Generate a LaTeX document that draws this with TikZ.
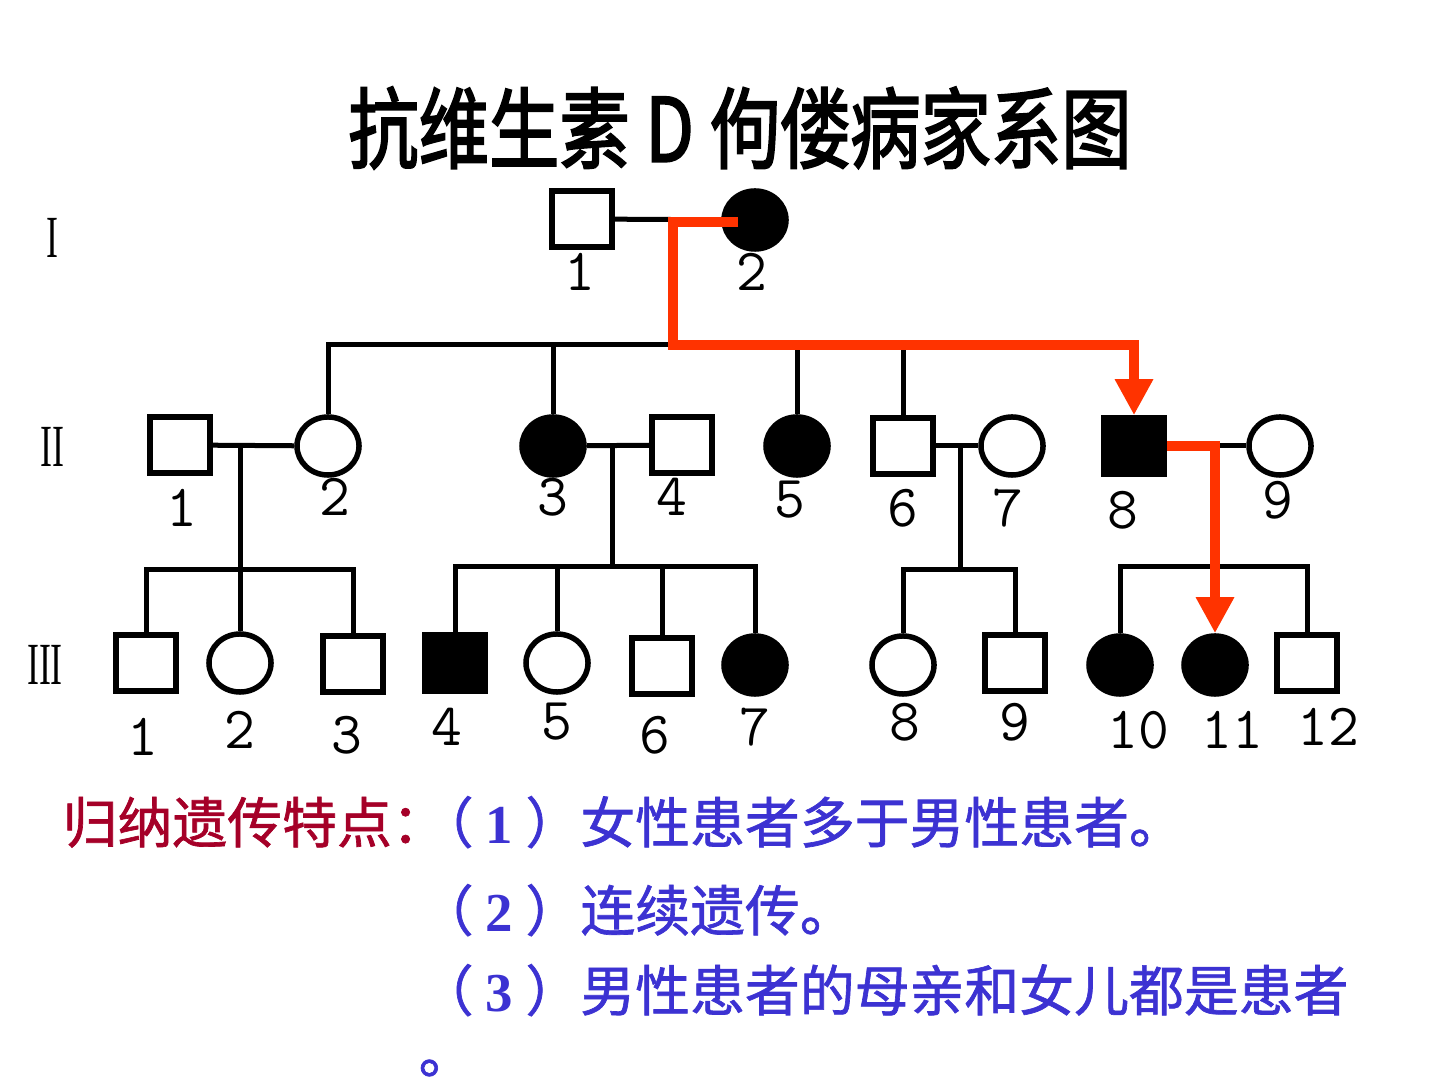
\documentclass[tikz,border=0pt]{standalone}
\usepackage{fontspec}
\setmainfont{Liberation Serif}
\newfontfamily\cjk{Noto Sans CJK SC}
\newfontfamily\cjkheavy[FakeBold=2.5]{Noto Sans CJK SC}
\newfontfamily\cjknote[FakeBold=1.2]{Noto Sans CJK SC}
\usetikzlibrary{shapes.geometric,arrows.meta}
\definecolor{arrowred}{RGB}{255,51,0}
\definecolor{notered}{RGB}{165,0,40}
\definecolor{noteblue}{RGB}{60,50,210}
\newcommand{\itemnum}[1]{{\rmfamily\bfseries #1}}

\begin{document}
\begin{tikzpicture}[x=0.01cm, y=-0.01cm,
	line/.style={line width=0.05cm},
	male/.style={draw, line width=0.055cm, rectangle, fill=white, minimum width=0.6cm, minimum height=0.56cm, inner sep=0pt},
	female/.style={draw, line width=0.055cm, ellipse, fill=white, minimum width=0.62cm, minimum height=0.58cm, inner sep=0pt},
	sick/.style={fill=black},
	num/.style={font=\ttfamily\fontsize{17pt}{17pt}\selectfont, inner sep=0pt},
	gen/.style={font=\fontsize{17pt}{17pt}\selectfont, xscale=0.6, inner sep=0pt},
	note/.style={font=\cjknote\fontsize{15.6pt}{18pt}\selectfont, inner sep=0pt, anchor=base west},
	redline/.style={draw=arrowred, line width=0.1cm, -{Triangle[width=0.36cm,length=0.36cm]}}]

	\useasboundingbox (0,0) rectangle (1440,1080);

	% title
	\node[font=\cjkheavy\fontsize{25pt}{25pt}\selectfont, xscale=0.8] (title) at (740,128) {抗维生素 D 佝偻病家系图};

	% generations
	\node[gen] (genI) at (52,238) {I};
	\node[gen] (genII) at (52,447) {II};
	\node[gen] (genIII) at (45,665) {III};

	% generation I
	\node[male] (i1) at (582,219) {};
	\node[female, sick] (i2) at (755,220) {};
	\node[num] (l-i1) at (580,272) {1};
	\node[num] (l-i2) at (752,272) {2};

	% generation II
	\node[male] (ii1) at (180,445) {};
	\node[female] (ii2) at (328,446) {};
	\node[female, sick] (ii3) at (553,446) {};
	\node[male] (ii4) at (682,445) {};
	\node[female, sick] (ii5) at (797,446) {};
	\node[male] (ii6) at (903,446) {};
	\node[female] (ii7) at (1012,446) {};
	\node[male, sick] (ii8) at (1134,446) {};
	\node[female] (ii9) at (1280,446) {};
	\node[num] (l-ii1) at (182,508) {1};
	\node[num] (l-ii2) at (335,497) {2};
	\node[num] (l-ii3) at (553,497) {3};
	\node[num] (l-ii4) at (672,497) {4};
	\node[num] (l-ii5) at (790,500) {5};
	\node[num] (l-ii6) at (903,508) {6};
	\node[num] (l-ii7) at (1008,508) {7};
	\node[num] (l-ii8) at (1123,510) {8};
	\node[num] (l-ii9) at (1278,500) {9};

	% generation III
	\node[male] (iii1) at (146,663) {};
	\node[female] (iii2) at (240,663) {};
	\node[male] (iii3) at (353,664) {};
	\node[male, sick] (iii4) at (455,663) {};
	\node[female] (iii5) at (557,663) {};
	\node[male] (iii6) at (662,666) {};
	\node[female, sick] (iii7) at (755,665) {};
	\node[female] (iii8) at (903,665) {};
	\node[male] (iii9) at (1015,663) {};
	\node[female, sick] (iii10) at (1120,665) {};
	\node[female, sick] (iii11) at (1215,665) {};
	\node[male] (iii12) at (1307,663) {};
	\node[num] (l-iii1) at (143,737) {1};
	\node[num] (l-iii2) at (240,730) {2};
	\node[num] (l-iii3) at (347,735) {3};
	\node[num] (l-iii4) at (447,727) {4};
	\node[num] (l-iii5) at (557,722) {5};
	\node[num] (l-iii6) at (655,735) {6};
	\node[num] (l-iii7) at (755,727) {7};
	\node[num] (l-iii8) at (905,722) {8};
	\node[num] (l-iii9) at (1015,722) {9};
	\node[num] (l-iii10) at (1138,730) {10};
	\node[num] (l-iii11) at (1232,730) {11};
	\node[num] (l-iii12) at (1328,727) {12};

	% marriage and descent points
	\coordinate (rstart) at (738,222);
	\coordinate (sII) at (673,345);
	\coordinate (mA) at (240,446);
	\coordinate (sA) at (240,570);
	\coordinate (mB) at (612,448);
	\coordinate (sB) at (612,567);
	\coordinate (mC) at (960,446);
	\coordinate (sC) at (960,570);
	\coordinate (mD) at (1218,446);
	\coordinate (sD) at (1218,567);

	% black lines
	\draw[line] (i1) -- (i2);
	\draw[line] (ii2.north) |- (sII);
	\draw[line] (ii3.north) -- (ii3.north |- sII);
	\draw[line] (ii5.north) -- (ii5.north |- sII);
	\draw[line] (ii6.north) -- (ii6.north |- sII);

	\draw[line] (ii1) -- (ii2);
	\draw[line] (ii3) -- (ii4);
	\draw[line] (ii6) -- (ii7);
	\draw[line] (ii8) -- (ii9);

	\draw[line] (mA) -- (iii2.north);
	\draw[line] (iii1.north) |- (sA) -| (iii3.north);
	\draw[line] (mB) -- (sB);
	\draw[line] (iii4.north) |- (sB) -| (iii7.north);
	\draw[line] (iii5.north) -- (iii5.north |- sB);
	\draw[line] (iii6.north) -- (iii6.north |- sB);
	\draw[line] (mC) -- (sC);
	\draw[line] (iii8.north) |- (sC) -| (iii9.north);
	\draw[line] (iii10.north) |- (sD) -| (iii12.north);

	% red arrows
	\draw[redline] (rstart) -| (sII) -| (ii8.north);
	\draw[redline] (ii8.east) -| (iii11.north);

	% notes
	\node[note, text=notered] (head) at (62,843) {归纳遗传特点：};
	\node[note, text=noteblue] (item1) at (418,843) {（ \itemnum{1} ）女性患者多于男性患者。};
	\node[note, text=noteblue] (item2) at (418,931) {（ \itemnum{2} ）连续遗传。};
	\node[note, text=noteblue] (item3) at (418,1011) {（ \itemnum{3} ）男性患者的母亲和女儿都是患者};
	\node[note, text=noteblue] (dot) at (418,1073) {。};
\end{tikzpicture}
\end{document}
